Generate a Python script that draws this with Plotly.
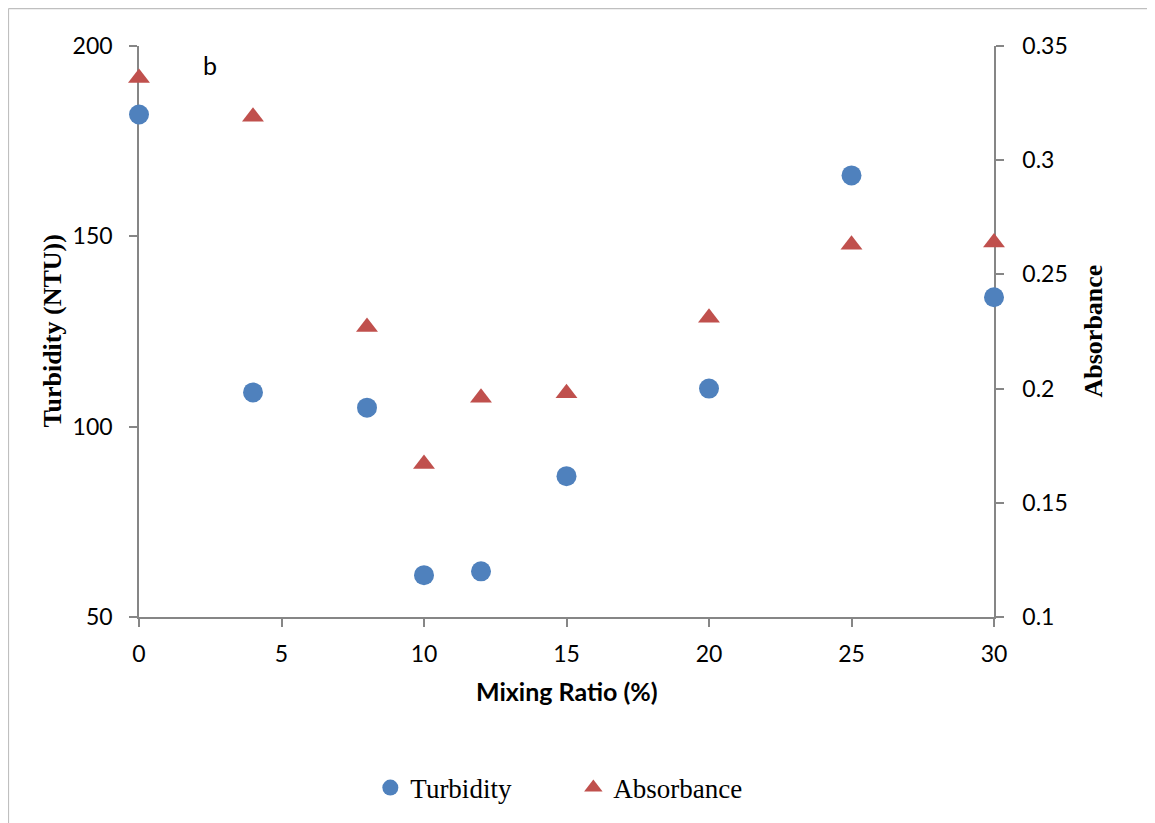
import plotly.graph_objects as go

# Data
mixing_ratio = [0, 4, 8, 10, 12, 15, 20, 25, 30]
turbidity = [182, 109, 105, 61, 62, 87, 110, 166, 134]
absorbance = [0.336, 0.319, 0.227, 0.167, 0.196, 0.198, 0.231, 0.263, 0.264]

x_ticks = [0, 5, 10, 15, 20, 25, 30]
y_ticks = [50, 100, 150, 200]
y2_ticks = [0.1, 0.15, 0.2, 0.25, 0.3, 0.35]
y2_ticktext = ["0.1", "0.15", "0.2", "0.25", "0.3", "0.35"]

BLUE = "#4F81BD"
RED = "#C0504D"
AXIS = "#868686"
TICKFONT = dict(family="Lato, 'Open Sans', sans-serif", size=23, color="#000000")
SERIF = "'Liberation Serif', 'Times New Roman', serif"

fig = go.Figure()
fig.add_trace(go.Scatter(
    x=mixing_ratio, y=turbidity, mode="markers", name="Turbidity",
    marker=dict(symbol="circle", size=20, color=BLUE),
    cliponaxis=False, yaxis="y",
))
fig.add_trace(go.Scatter(
    x=mixing_ratio, y=absorbance, mode="markers", name="Absorbance",
    marker=dict(symbol="triangle-up", size=19, color=RED),
    cliponaxis=False, yaxis="y2",
))

# The page places the figure at an 8px offset; work in page pixels and convert.
OFF = 8
W, H = 1155 - OFF, 823 - OFF
L, R, T, B = 139, 994, 46, 618  # page pixels of plot area
pw, ph = R - L, B - T

def px_x(p):
    return (p - L) / pw

def px_y(p):
    return (B - p) / ph

fig.update_layout(
    width=W, height=H,
    margin=dict(l=L - OFF, r=W - (R - OFF), t=T - OFF, b=H - (B - OFF)),
    paper_bgcolor="white", plot_bgcolor="white",
    showlegend=True,
    legend=dict(
        orientation="h", x=0.508, xanchor="center", y=px_y(788), yanchor="middle",
        font=dict(family=SERIF, size=27, color="#000000"),
        itemwidth=30, entrywidth=158, entrywidthmode="pixels",
        bgcolor="rgba(0,0,0,0)",
    ),
    xaxis=dict(
        range=[0, 30], tickvals=x_ticks, showgrid=False, zeroline=False,
        showline=True, linecolor=AXIS, linewidth=1.5,
        ticks="outside", ticklen=8, tickcolor=AXIS, tickwidth=1.5,
        tickfont=TICKFONT, ticklabelstandoff=8, layer="below traces",
    ),
    yaxis=dict(
        range=[50, 200], tickvals=y_ticks, showgrid=False, zeroline=False,
        showline=True, linecolor=AXIS, linewidth=1.5,
        ticks="outside", ticklen=8, tickcolor=AXIS, tickwidth=1.5,
        tickfont=TICKFONT, ticklabelstandoff=12, layer="below traces",
    ),
    yaxis2=dict(
        range=[0.1, 0.35], tickvals=y2_ticks, ticktext=y2_ticktext,
        overlaying="y", side="right", anchor="x",
        showgrid=False, zeroline=False,
        showline=True, linecolor=AXIS, linewidth=1.5,
        ticks="outside", ticklen=8, tickcolor=AXIS, tickwidth=1.5,
        tickfont=TICKFONT, ticklabelstandoff=14, layer="below traces",
    ),
)

annotations = [
    dict(text="<b>Mixing Ratio (%)</b>", x=0.5, y=px_y(692), xref="paper", yref="paper",
         xanchor="center", yanchor="middle", showarrow=False,
         font=dict(family="Lato, 'Open Sans', sans-serif", size=25, color="#000000")),
    dict(text="<b>Turbidity (NTU))</b>", x=px_x(52), y=0.5, xref="paper", yref="paper",
         xanchor="center", yanchor="middle", showarrow=False, textangle=-90,
         font=dict(family=SERIF, size=26, color="#000000")),
    dict(text="<b>Absorbance</b>", x=px_x(1093), y=0.5, xref="paper", yref="paper",
         xanchor="center", yanchor="middle", showarrow=False, textangle=-90,
         font=dict(family=SERIF, size=26, color="#000000")),
    dict(text="b", x=px_x(210), y=px_y(65), xref="paper", yref="paper",
         xanchor="center", yanchor="middle", showarrow=False,
         font=dict(family="Lato, 'Open Sans', sans-serif", size=25, color="#000000")),
]
fig.update_layout(annotations=annotations)

# Outer chart-area border (left and top edges visible in the reference)
BORDER = "#BFBFBF"
fig.add_shape(type="line", xref="paper", yref="paper",
              x0=px_x(8.5), x1=px_x(8.5), y0=px_y(8.5), y1=px_y(840),
              line=dict(color=BORDER, width=1.2))
fig.add_shape(type="line", xref="paper", yref="paper",
              x0=px_x(8.5), x1=px_x(1170), y0=px_y(8.5), y1=px_y(8.5),
              line=dict(color=BORDER, width=1.2))

fig.write_html("out.html")
